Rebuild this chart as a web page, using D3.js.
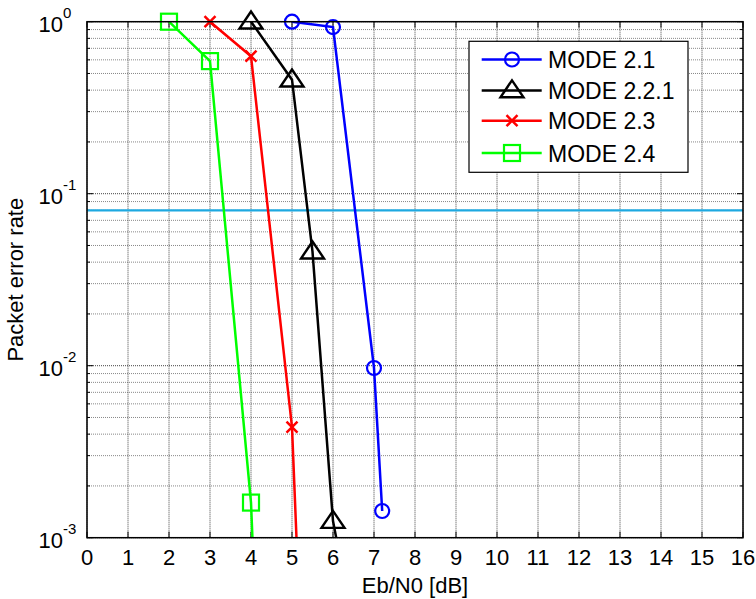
<!DOCTYPE html>
<html><head><meta charset="utf-8">
<script src="https://cdn.jsdelivr.net/npm/d3@7"></script>
<style>body{margin:0;background:#fff}svg{display:block}text{font-family:"Liberation Sans",Arial,sans-serif}</style>
</head><body>
<svg id="c" width="756" height="599"></svg>
<script>
const seriesNames = ["MODE 2.1", "MODE 2.2.1", "MODE 2.3", "MODE 2.4"];
const seriesColors = ["#0000ff", "#000000", "#ff0000", "#00ff00"];
const seriesMarkers = ["circle", "triangle", "cross", "square"];
const xMode21 = [5, 6, 7, 7.2];
const yMode21 = [1.0, 0.93, 0.0097, 0.00143];
const xMode221 = [4, 5, 5.5, 6, 6.5];
const yMode221 = [1.0, 0.46, 0.046, 0.00125, 0.0003];
const xMode23 = [3, 4, 5, 5.5];
const yMode23 = [1.0, 0.63, 0.0044, 0.000005];
const xMode24 = [2, 3, 4, 4.5];
const yMode24 = [1.0, 0.59, 0.0016, 0.000002];
const thresholdPER = 0.08;
const xTicks = d3.range(0, 17);
const yDecades = [1e-3, 1e-2, 1e-1, 1];
const yExponents = ["-3", "-2", "-1", "0"];

const xs = [xMode21, xMode221, xMode23, xMode24];
const ys = [yMode21, yMode221, yMode23, yMode24];

const L = 87, R = 743, T = 21.7, B = 537.7;
const svg = d3.select("#c");
const x = d3.scaleLinear().domain([0, 16]).range([L, R]);
const y = d3.scaleLog().domain([1e-3, 1]).range([B, T]);

svg.append("defs").append("clipPath").attr("id", "clip")
  .append("rect").attr("x", L).attr("y", T).attr("width", R - L).attr("height", B - T);

// minor grid
const minor = [];
for (let e = -3; e < 0; e++) for (let m = 2; m <= 9; m++) minor.push(m * Math.pow(10, e));
const g = svg.append("g");
g.selectAll(".mg").data(minor).enter().append("line")
  .attr("x1", L).attr("x2", R).attr("y1", d => y(d)).attr("y2", d => y(d))
  .attr("stroke", "#888").attr("stroke-width", 1).attr("stroke-dasharray", "1,1");
g.selectAll(".yg").data(yDecades).enter().append("line")
  .attr("x1", L).attr("x2", R).attr("y1", d => y(d)).attr("y2", d => y(d))
  .attr("stroke", "#444").attr("stroke-width", 1).attr("stroke-dasharray", "1,1");
g.selectAll(".xg").data(xTicks).enter().append("line")
  .attr("y1", T).attr("y2", B).attr("x1", d => x(d)).attr("x2", d => x(d))
  .attr("stroke", "#444").attr("stroke-width", 1).attr("stroke-dasharray", "1,1");

// ticks inside on all sides
const tl = 6;
const tk = svg.append("g").attr("stroke", "#000").attr("stroke-width", 1);
xTicks.forEach(t => {
  tk.append("line").attr("x1", x(t)).attr("x2", x(t)).attr("y1", B).attr("y2", B - tl);
  tk.append("line").attr("x1", x(t)).attr("x2", x(t)).attr("y1", T).attr("y2", T + tl);
});
yDecades.forEach(t => {
  tk.append("line").attr("x1", L).attr("x2", L + tl).attr("y1", y(t)).attr("y2", y(t));
  tk.append("line").attr("x1", R).attr("x2", R - tl).attr("y1", y(t)).attr("y2", y(t));
});
minor.forEach(t => {
  tk.append("line").attr("x1", L).attr("x2", L + 3).attr("y1", y(t)).attr("y2", y(t));
  tk.append("line").attr("x1", R).attr("x2", R - 3).attr("y1", y(t)).attr("y2", y(t));
});

// threshold line
svg.append("line").attr("x1", L).attr("x2", R).attr("y1", y(thresholdPER)).attr("y2", y(thresholdPER))
  .attr("stroke", "#1ea9e1").attr("stroke-width", 2.4);

// series
const line = d3.line().x(d => x(d[0])).y(d => y(d[1]));
function marker(sel, type, cx, cy, color) {
  if (type === "circle") {
    sel.append("circle").attr("cx", cx).attr("cy", cy).attr("r", 7)
      .attr("fill", "none").attr("stroke", color).attr("stroke-width", 2.2);
  } else if (type === "triangle") {
    const w = 11.5, h = 17;
    sel.append("path").attr("d", `M${cx},${cy - h * 0.6}L${cx + w},${cy + h * 0.4}L${cx - w},${cy + h * 0.4}Z`)
      .attr("fill", "none").attr("stroke", color).attr("stroke-width", 2.4);
  } else if (type === "cross") {
    const s = 5.5;
    sel.append("path").attr("d", `M${cx - s},${cy - s}L${cx + s},${cy + s}M${cx - s},${cy + s}L${cx + s},${cy - s}`)
      .attr("fill", "none").attr("stroke", color).attr("stroke-width", 2.5);
  } else {
    const s = 8;
    sel.append("rect").attr("x", cx - s).attr("y", cy - s).attr("width", 2 * s).attr("height", 2 * s)
      .attr("fill", "none").attr("stroke", color).attr("stroke-width", 2.2);
  }
}
xs.forEach((xv, i) => {
  const pts = xv.map((v, j) => [v, ys[i][j]]);
  svg.append("path").datum(pts).attr("d", line).attr("clip-path", "url(#clip)")
    .attr("fill", "none").attr("stroke", seriesColors[i]).attr("stroke-width", 2.5);
  const mg = svg.append("g");
  pts.filter(p => p[1] >= 1e-3).forEach(p => marker(mg, seriesMarkers[i], x(p[0]), y(p[1]), seriesColors[i]));
});

// box
svg.append("rect").attr("x", L).attr("y", T).attr("width", R - L).attr("height", B - T)
  .attr("fill", "none").attr("stroke", "#000").attr("stroke-width", 1.5);

// tick labels
const fs = 22;
svg.selectAll(".xl").data(xTicks).enter().append("text")
  .attr("x", d => x(d)).attr("y", 565).attr("text-anchor", "middle").attr("font-size", fs).text(d => d);
yDecades.forEach((d, i) => {
  svg.append("text").attr("x", 63).attr("y", y(d) + 10).attr("text-anchor", "end").attr("font-size", fs).text("10");
  svg.append("text").attr("x", 63).attr("y", y(d) - 4).attr("font-size", 15).text(yExponents[i]);
});
svg.append("text").attr("x", (L + R) / 2).attr("y", 593).attr("text-anchor", "middle").attr("font-size", fs).text("Eb/N0 [dB]");
svg.append("text").attr("transform", `translate(23,${(T + B) / 2}) rotate(-90)`).attr("text-anchor", "middle")
  .attr("font-size", fs).text("Packet error rate");

// legend
const lg = svg.append("g");
lg.append("rect").attr("x", 469).attr("y", 41.3).attr("width", 219).attr("height", 131)
  .attr("fill", "#fff").attr("stroke", "#000").attr("stroke-width", 1.2);
const rowY = [59.5, 90.5, 120.7, 153];
seriesNames.forEach((n, i) => {
  lg.append("line").attr("x1", 481.7).attr("x2", 541.7).attr("y1", rowY[i]).attr("y2", rowY[i])
    .attr("stroke", seriesColors[i]).attr("stroke-width", 2.5);
  marker(lg, seriesMarkers[i], 512, rowY[i], seriesColors[i]);
  lg.append("text").attr("x", 548).attr("y", rowY[i] + 8.5).attr("font-size", 23).text(n);
});
</script>
</body></html>
